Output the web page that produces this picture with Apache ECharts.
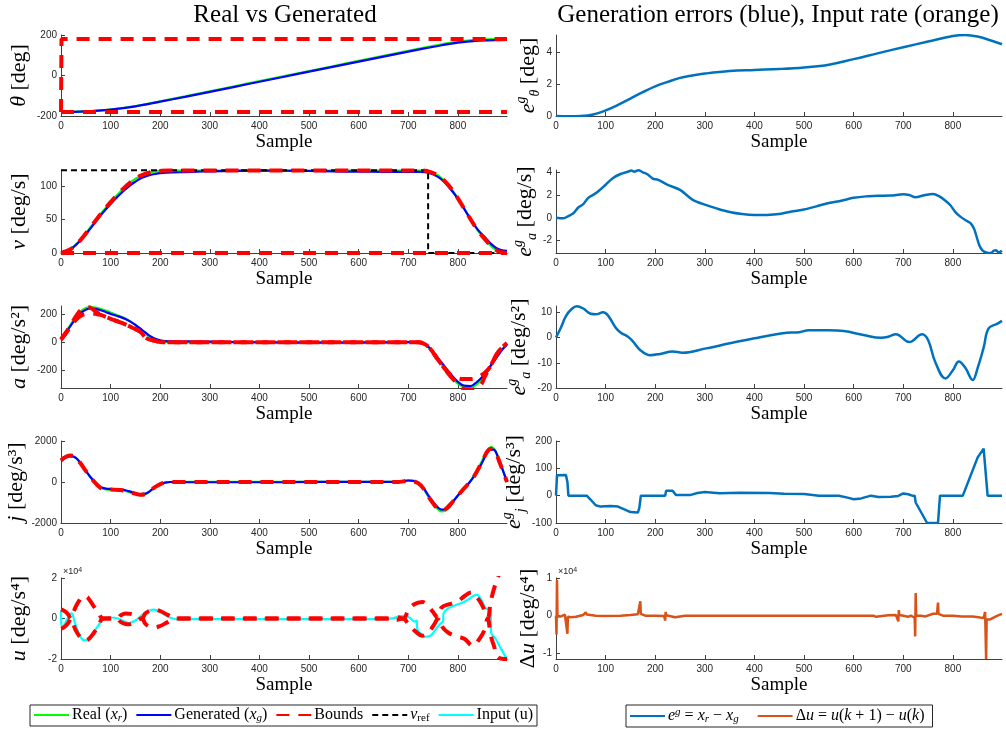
<!DOCTYPE html>
<html><head><meta charset="utf-8">
<script src="https://cdn.jsdelivr.net/npm/echarts@6/dist/echarts.min.js"></script>
<style>html,body{margin:0;padding:0;background:#fff}#c{width:1006px;height:731px}</style>
</head><body><div id="c"></div>
<script>
// ---------- tick values ----------
const xTicks = [0,100,200,300,400,500,600,700,800];
const thetaTicks = [-200,0,200];
const vTicks = [0,50,100];
const aTicks = [-200,0,200];
const jTicks = [-2000,0,2000];
const uTicks = [-20000,0,20000];
const eThetaTicks = [0,2,4];
const eVTicks = [-2,0,2,4];
const eATicks = [-20,-10,0,10];
const eJTicks = [-100,0,100,200];
const duTicks = [-10000,0,10000];

// ---------- row 1 : theta ----------
const thetaReal = [[0,-180],[25,-179.5],[50,-177.5],[75,-173.5],[100,-168],[125,-160.5],[150,-151],[175,-140],[200,-127.5],[250,-103],[300,-78],[350,-53],[400,-28],[450,-3],[500,22],[550,47],[600,72],[650,97],[700,122],[740,141.5],[770,155.5],[800,167],[830,174.5],[860,178.5],[880,179.6],[899,180]];
const thetaGen = [[0,-180],[25,-179.5],[50,-177.5],[75,-173.6],[100,-168.4],[125,-161.2],[150,-152.1],[175,-141.5],[200,-129.4],[250,-105.4],[300,-80.7],[350,-55.8],[400,-30.9],[450,-6],[500,18.9],[550,43.8],[600,68.4],[650,93],[700,117.7],[740,136.9],[770,150.7],[800,162],[830,169.4],[860,173.6],[880,174.9],[899,175.5]];
const thetaBoundUp = [[0,-180],[1,180],[899,180]];
const thetaBoundLow = [[0,-180],[899,-180]];

// ---------- row 2 : v ----------
const vReal = [[0,0],[10,2],[20,6],[30,12.5],[40,20],[50,29],[60,38.9],[70,48.6],[80,58.3],[90,67.4],[100,76.1],[110,84.3],[120,92],[130,99],[140,105.4],[150,110.7],[160,115.2],[170,118.3],[180,120.6],[190,121.8],[200,122.6],[210,123],[220,123.2],[720,123.2],[730,122.8],[740,121.8],[750,119.5],[760,115.8],[770,109.5],[780,102.2],[790,92.5],[800,81.6],[810,69.5],[820,57],[830,45],[840,34],[850,25],[860,16],[870,8.5],[880,3.5],[890,1],[899,0.2]];
const vGen = [[0,0],[10,2],[20,6],[30,12.2],[40,19.4],[50,28],[60,37.4],[70,46.7],[80,56.2],[90,64.9],[100,73.2],[110,81],[120,88.4],[130,95.2],[140,101.4],[150,106.6],[160,111.2],[170,114.2],[180,116.7],[190,118.2],[200,119.2],[225,120.3],[250,120.8],[275,121.5],[300,122],[350,122.7],[400,123],[450,122.9],[500,122.5],[550,121.9],[600,121.5],[650,121.3],[700,121.1],[725,121.1],[740,119.9],[760,113.7],[775,104.2],[790,91.1],[800,80.8],[810,69.3],[825,51.2],[840,35],[853,24.5],[867,13.5],[877,7.5],[887,4.5],[899,3.1]];
const vBoundUp = [[0,0],[20,6],[40,20],[60,39],[80,58.3],[100,76],[120,92],[140,105.4],[160,115.2],[180,120.6],[200,122.6],[215,123.4],[730,123.4],[740,122],[750,119.5],[760,115.8],[780,102.2],[800,81.6],[820,57],[840,34],[860,16],[875,5.5],[885,1.5],[899,0]];
const vBoundLow = [[0,0],[899,0]];
const vRef = [[0,123.5],[740,123.5],[740,0],[899,0]];

// ---------- row 3 : a ----------
const aReal = [[0,20],[10,75],[20,130],[30,180],[40,222],[50,245],[60,252],[70,248],[80,238],[90,226],[100,212],[110,198],[120,184],[130,168],[140,148],[150,123],[160,95],[170,65],[180,38],[190,18],[200,7],[210,2],[220,0],[700,0],[712,2],[725,-2],[738,-25],[750,-70],[765,-145],[775,-195],[785,-241],[800,-295],[812,-318],[825,-324],[838,-300],[850,-255],[862,-190],[872,-135],[880,-90],[890,-45],[899,-12]];
const aGen = [[0,20],[10,71],[20,121.5],[30,169],[40,209.6],[50,233],[60,241],[70,238.6],[80,228.8],[90,216.2],[100,202.5],[110,191],[120,180],[130,166],[140,147.2],[150,123.6],[160,97.5],[170,70],[180,44.3],[190,25],[200,13.8],[210,8.5],[235,5.5],[255,6],[300,4.4],[350,2.3],[400,0.3],[450,-1.5],[500,-2.8],[550,-2.9],[600,-1.8],[655,0.1],[685,-1.3],[712,3.8],[738,-26.3],[750,-69],[765,-135],[785,-224.8],[800,-282],[812,-308.5],[825,-312],[838,-283.5],[850,-243],[862,-186],[872,-138.6],[890,-50.5],[899,-18.6]];
const aBound1 = [[0,20],[10,70],[20,125],[30,185],[40,230],[50,250],[56,250],[62,240],[70,220],[80,195],[100,168],[125,135],[145,102],[160,75],[172,30],[190,10],[205,0],[720,0],[740,-30],[760,-125],[780,-215],[795,-250],[812,-262],[828,-262],[842,-245],[855,-215],[865,-175],[880,-75],[890,-35],[899,-5]];
const aBound2 = [[0,20],[10,65],[20,115],[30,160],[40,190],[50,203],[60,207],[70,203],[80,195],[100,168],[125,135],[145,102],[160,75],[172,30],[190,10],[205,0],[720,0],[740,-30],[760,-125],[780,-220],[795,-280],[805,-315],[815,-335],[830,-338],[845,-310],[855,-240],[865,-175],[880,-75],[890,-35],[899,-5]];

// ---------- row 4 : j ----------
const jReal = [[0,1100],[10,1260],[20,1300],[30,1180],[40,900],[50,550],[60,220],[70,-60],[80,-280],[90,-360],[100,-380],[110,-380],[120,-400],[130,-440],[140,-520],[150,-600],[160,-650],[170,-610],[180,-430],[190,-250],[200,-110],[210,-30],[220,0],[230,10],[680,10],[690,40],[700,80],[710,60],[720,-50],[730,-300],[740,-700],[750,-1050],[760,-1330],[768,-1440],[775,-1380],[782,-1250],[790,-970],[800,-660],[810,-380],[820,-120],[830,200],[840,620],[850,1100],[858,1500],[866,1700],[872,1640],[880,1280],[890,620],[899,0]];
const jGen = [[0,1040],[10,1200],[20,1250],[30,1180],[40,900],[50,550],[60,220],[70,-45],[80,-245],[90,-320],[100,-340],[110,-342],[120,-362],[130,-400],[140,-470],[150,-540],[160,-590],[170,-570],[180,-430],[190,-250],[200,-110],[210,-30],[220,0],[230,-8],[300,-13],[450,-10],[600,13],[680,8],[690,38],[700,72],[710,55],[720,-50],[730,-270],[740,-640],[750,-970],[760,-1250],[768,-1350],[775,-1330],[782,-1240],[790,-970],[800,-660],[810,-380],[820,-120],[830,190],[840,560],[850,1000],[858,1380],[866,1580],[872,1580],[880,1260],[890,620],[899,0]];
const jBound = [[0,1050],[10,1230],[20,1290],[30,1180],[40,890],[50,540],[60,210],[70,-70],[80,-290],[90,-360],[100,-370],[120,-390],[140,-500],[160,-620],[170,-590],[180,-420],[190,-240],[200,-100],[210,-25],[225,0],[680,0],[690,30],[700,70],[710,40],[720,-60],[730,-300],[740,-690],[750,-1040],[760,-1310],[768,-1390],[775,-1330],[790,-950],[810,-380],[830,180],[850,1050],[860,1520],[868,1620],[875,1480],[885,900],[899,0]];

// ---------- row 5 : u ----------
const uInput = [[0,4000],[1,-3000],[4,-4000],[8,-2500],[13,0],[18,2000],[22,2500],[25,500],[30,-3500],[38,-8500],[47,-10800],[55,-10000],[65,-7000],[75,-3500],[87,0],[100,500],[115,0],[128,-1500],[137,-2300],[150,-1000],[165,2000],[178,3800],[187,4400],[200,3300],[213,1200],[225,0],[235,-500],[260,-300],[650,-300],[670,200],[685,1200],[695,1300],[705,0],[712,-1500],[717,-1000],[718,-5000],[725,-7500],[735,-9000],[745,-8500],[755,-5500],[765,-2500],[770,-1500],[771,2500],[780,5000],[800,7000],[815,8500],[830,11000],[838,11800],[848,9000],[856,5000],[866,4500],[867,-7000],[876,-10000],[887,-15000],[899,-20000]];
const uBoundA = [[0,4500],[5,4000],[10,3200],[15,1800],[20,0],[25,3000],[30,6000],[37,9000],[43,10800],[50,10800],[58,9000],[66,6000],[75,3000],[85,0],[113,0],[120,1500],[130,2500],[140,2300],[150,1500],[163,0],[170,2500],[178,3800],[187,4500],[200,3700],[215,1800],[232,0],[660,0],[675,700],[690,0],[700,4000],[712,7000],[728,8200],[740,6000],[752,2500],[760,0],[767,5400],[787,7400],[800,8500],[813,11000],[827,12800],[840,10000],[850,6000],[860,0],[866,8000],[872,14000],[880,20000],[890,26000]];
const uBoundB = [[0,-5000],[5,-4500],[10,-3500],[15,-2000],[20,0],[25,-3000],[30,-6000],[38,-9000],[47,-10800],[55,-10300],[65,-7500],[75,-4000],[85,0],[113,0],[120,-1700],[130,-2700],[137,-2800],[150,-1600],[163,0],[170,-2600],[178,-4000],[187,-4500],[200,-3700],[215,-1800],[232,0],[660,0],[675,-700],[690,0],[700,-2800],[715,-6500],[728,-8500],[740,-7000],[752,-3000],[760,0],[767,-3600],[780,-6900],[800,-9000],[813,-10000],[830,-13400],[845,-9500],[853,-6000],[860,0],[866,-8000],[872,-13000],[883,-19500],[899,-20000]];

// ---------- right column ----------
const eTheta = [[0,0],[25,-0.02],[50,0],[75,0.1],[100,0.35],[125,0.7],[150,1.1],[175,1.5],[200,1.87],[225,2.15],[250,2.4],[275,2.55],[300,2.67],[350,2.83],[400,2.9],[450,2.96],[500,3.06],[550,3.23],[600,3.58],[650,3.96],[700,4.33],[750,4.69],[800,5.04],[825,5.1],[850,5.0],[875,4.77],[899,4.52]];
const eV = [[0,0],[15,-0.05],[25,0.15],[35,0.4],[45,0.9],[55,1.2],[65,1.75],[80,2.15],[100,2.9],[115,3.5],[130,3.85],[145,4.05],[152,4.15],[158,4.05],[166,4.18],[175,4.0],[185,3.8],[195,3.45],[205,3.35],[225,2.9],[250,2.45],[275,1.6],[300,1.15],[325,0.8],[350,0.5],[375,0.32],[400,0.24],[425,0.25],[450,0.33],[475,0.55],[500,0.72],[525,1.0],[550,1.3],[575,1.5],[600,1.75],[625,1.88],[650,1.93],[675,1.95],[700,2.07],[712,2.0],[725,1.8],[740,1.95],[760,2.1],[772,1.9],[785,1.5],[795,1.1],[805,0.5],[815,0.1],[825,-0.2],[835,-0.45],[843,-1.0],[853,-2.4],[860,-2.9],[867,-3.05],[877,-3.1],[882,-2.9],[887,-2.85],[892,-3.05],[899,-2.9]];
const eA = [[0,0],[10,4],[20,8.5],[30,11],[42,12.4],[55,11.5],[70,9.4],[80,9.2],[95,10],[105,8.7],[120,4],[130,2],[145,0.3],[155,-1.5],[170,-5],[190,-7],[210,-6.5],[235,-5.5],[255,-6],[300,-4.4],[350,-2.3],[400,-0.3],[450,1.5],[475,2],[485,2],[510,2.9],[550,2.9],[580,2.6],[620,1],[655,-0.1],[670,0.3],[685,1.3],[712,-1.8],[738,1.3],[750,-1],[765,-10],[785,-16.2],[800,-13],[812,-9.5],[825,-12],[840,-16.8],[850,-12],[862,-4],[872,3.6],[890,5.5],[899,6.6]];
const eJ = [[0,0],[2,75],[20,76],[23,50],[25,0],[62,0],[70,-15],[80,-35],[90,-40],[110,-38],[125,-40],[140,-52],[150,-60],[165,-62],[168,-45],[171,0],[220,0],[222,18],[235,18],[242,2],[270,2],[285,10],[300,13],[330,9],[370,11],[430,10],[460,7],[500,6],[530,0],[570,0],[590,-8],[600,-13],[615,-10],[635,0],[650,-5],[675,-4],[690,-1],[700,8],[710,5],[718,0],[723,0],[725,-25],[748,-100],[770,-100],[774,0],[820,0],[850,140],[862,172],[866,170],[870,0],[899,0]];
const dU = [[0,0],[1,-5000],[2,9500],[3,-200],[5,0],[10,-200],[18,300],[20,800],[21,300],[23,-4800],[24,-300],[30,-400],[40,-300],[55,200],[60,900],[62,300],[80,0],[100,-100],[130,0],[150,200],[165,400],[168,200],[170,3800],[171,500],[172,100],[180,0],[200,0],[218,-100],[220,-1300],[221,1000],[222,100],[224,-300],[240,-400],[241,0],[260,0],[640,0],[645,-300],[646,0],[670,100],[672,400],[673,100],[685,200],[690,-1500],[691,1500],[692,200],[700,0],[710,-300],[715,0],[723,-500],[724,-5500],[725,6000],[726,0],[735,0],[745,-200],[760,500],[768,500],[770,3500],[771,500],[780,0],[800,0],[818,-200],[820,-700],[821,0],[840,-200],[855,-500],[862,-600],[865,1000],[866,1000],[867,-11500],[868,-1000],[875,-1000],[890,0],[899,500]];

// ---------- styling ----------
const SERIF = '"Liberation Serif", "DejaVu Serif", serif';
const SANS = '"Liberation Sans", Arial, sans-serif';
const AX = '#404040';
const C = {real:'#00ff00', gen:'#0000ff', bound:'#ff0000', ref:'#000000', input:'#00ffff', err:'#0072BD', du:'#D95319'};

const rowTop = [35,170,306,441,578];
const rowH = [81,83,82,82,81];
const colLeft = [61,556];
const colW = 446;

const grids = [];
for (let c=0;c<2;c++) for (let r=0;r<5;r++) grids.push({left:colLeft[c], top:rowTop[r], width:colW, height:rowH[r], containLabel:false});

const nameRich = {
  i:{fontFamily:SERIF,fontStyle:'italic',fontSize:22,color:'#000',lineHeight:28},
  n:{fontFamily:SERIF,fontSize:22,color:'#000',lineHeight:28},
  sup:{fontFamily:SERIF,fontStyle:'italic',fontSize:14,color:'#000',verticalAlign:'top',lineHeight:14},
  sub:{fontFamily:SERIF,fontStyle:'italic',fontSize:14,color:'#000',verticalAlign:'bottom',lineHeight:14}
};

function xAx(gi){
  return {gridIndex:gi,type:'value',min:0,max:899,
    name:'Sample',nameLocation:'middle',nameGap:17,
    nameTextStyle:{fontFamily:SERIF,fontSize:19,color:'#000'},
    axisLine:{show:true,onZero:false,lineStyle:{color:AX,width:1}},
    axisTick:{show:true,inside:true,length:4,customValues:xTicks,lineStyle:{color:AX}},
    axisLabel:{customValues:xTicks,fontSize:10,color:'#262626',fontFamily:SANS,margin:5,
      formatter:v=>xTicks.includes(v)?String(v):''},
    splitLine:{show:false}};
}
function yAx(gi,min,max,ticks,name,gap,scale){
  scale = scale||1;
  return {gridIndex:gi,type:'value',min:min,max:max,
    name:name,nameLocation:'middle',nameGap:gap,nameRotate:90,
    nameTextStyle:{fontFamily:SERIF,fontSize:22,color:'#000',rich:nameRich},
    axisLine:{show:true,onZero:false,lineStyle:{color:AX,width:1}},
    axisTick:{show:true,inside:true,length:4,customValues:ticks,lineStyle:{color:AX}},
    axisLabel:{customValues:ticks,fontSize:10,color:'#262626',fontFamily:SANS,margin:4,
      formatter:v=>ticks.includes(v)?String(v/scale):''},
    splitLine:{show:false}};
}

const xAxes = [];
for (let g=0; g<10; g++) xAxes.push(xAx(g));
const yAxes = [
  yAx(0,-200,200,thetaTicks,'{i|θ}{n| [deg]}',28),
  yAx(1,0,124,vTicks,'{i|v}{n| [deg/s]}',28),
  yAx(2,-326,259,aTicks,'{i|a}{n| [deg/s²]}',28),
  yAx(3,-2000,2000,jTicks,'{i|j}{n| [deg/s³]}',28),
  yAx(4,-20000,20000,uTicks,'{i|u}{n| [deg/s⁴]}',28,10000),
  yAx(5,0,5.1,eThetaTicks,'{i|e}{sup|g}{sub|θ}{n| [deg]}',12),
  yAx(6,-3.1,4.2,eVTicks,'{i|e}{sup|g}{sub|a}{n| [deg/s]}',12),
  yAx(7,-20,12.5,eATicks,'{i|e}{sup|g}{sub|a}{n| [deg/s²]}',12),
  yAx(8,-100,200,eJTicks,'{i|e}{sup|g}{sub|j}{n| [deg/s³]}',12),
  yAx(9,-11500,10000,duTicks,'{n|Δ}{i|u}{n| [deg/s⁴]}',12,10000)
];

function ln(name,data,gi,color,width,dash,smooth){
  return {type:'line',name:name,xAxisIndex:gi,yAxisIndex:gi,data:data,
    symbol:'none',showSymbol:false,smooth:smooth||false,animation:false,
    lineStyle:{color:color,width:width,type:dash||'solid'},itemStyle:{color:color},
    emphasis:{disabled:true},silent:true};
}
const RD = [13,9];
const BD = [6,4];
const series = [
  ln('Real',thetaReal,0,C.real,2.2,null,0.4),
  ln('Generated',thetaGen,0,C.gen,2.2,null,0.4),
  ln('Bounds',thetaBoundUp,0,C.bound,4,RD),
  ln('Bounds',thetaBoundLow,0,C.bound,4,RD),

  ln('Real',vReal,1,C.real,2.2,null,0.4),
  ln('Generated',vGen,1,C.gen,2.2,null,0.4),
  ln('vref',vRef,1,C.ref,2,BD),
  ln('Bounds',vBoundUp,1,C.bound,4,RD,0.4),
  ln('Bounds',vBoundLow,1,C.bound,4,RD),

  ln('Real',aReal,2,C.real,2.2,null,0.4),
  ln('Generated',aGen,2,C.gen,2.2,null,0.4),
  ln('Bounds',aBound1,2,C.bound,4,RD,0.4),
  ln('Bounds',aBound2,2,C.bound,4,RD,0.4),

  ln('Real',jReal,3,C.real,2.2,null,0.4),
  ln('Generated',jGen,3,C.gen,2.2,null,0.4),
  ln('Bounds',jBound,3,C.bound,4,RD,0.4),

  ln('Input',uInput,4,C.input,2.2,null,0.3),
  ln('Bounds',uBoundA,4,C.bound,4,RD,0.4),
  ln('Bounds',uBoundB,4,C.bound,4,RD,0.4),

  ln('err',eTheta,5,C.err,2.5,null,0.4),
  ln('err',eV,6,C.err,2.5,null,0.3),
  ln('err',eA,7,C.err,2.5,null,0.4),
  ln('err',eJ,8,C.err,2.5,null,false),
  ln('du',dU,9,C.du,2.5,null,false)
];

const legRich = {
  n:{fontFamily:SERIF,fontSize:16,color:'#000',lineHeight:18},
  i:{fontFamily:SERIF,fontStyle:'italic',fontSize:16,color:'#000',lineHeight:18},
  sub:{fontFamily:SERIF,fontStyle:'italic',fontSize:11,color:'#000',verticalAlign:'bottom',lineHeight:11},
  subn:{fontFamily:SERIF,fontSize:11,color:'#000',verticalAlign:'bottom',lineHeight:11},
  sup:{fontFamily:SERIF,fontStyle:'italic',fontSize:11,color:'#000',verticalAlign:'top',lineHeight:11}
};
const legText = {
  'Real':'{n|Real (}{i|x}{sub|r}{n|)}',
  'Generated':'{n|Generated (}{i|x}{sub|g}{n|)}',
  'Bounds':'{n|Bounds}',
  'vref':'{i|v}{subn|ref}',
  'Input':'{n|Input (u)}',
  'err':'{i|e}{sup|g}{n| = }{i|x}{sub|r}{n| − }{i|x}{sub|g}',
  'du':'{n|Δ}{i|u}{n| = }{i|u}{n|(}{i|k}{n| + 1) − }{i|u}{n|(}{i|k}{n|)}'
};
function leg(data,left,gap,pad){
  return {data:data,left:left,top:705,orient:'horizontal',itemWidth:35,itemHeight:12,itemGap:gap,
    padding:pad,borderColor:'#262626',borderWidth:1,backgroundColor:'#fff',
    selectedMode:false,
    itemStyle:{color:'rgba(0,0,0,0)',borderWidth:0,borderColor:'rgba(0,0,0,0)',opacity:0},
    textStyle:{fontFamily:SERIF,fontSize:16,color:'#000',rich:legRich,padding:[0,0,0,-2]},
    formatter:n=>legText[n]};
}

const option = {
  animation:false,
  backgroundColor:'#fff',
  grid:grids,
  xAxis:xAxes,
  yAxis:yAxes,
  series:series,
  legend:[leg(['Real','Generated','Bounds','vref','Input'],30,8,[2,4,2,3]), leg(['err','du'],626,18,[2,8,2,3])],
  graphic:[
    {type:'text',x:285,y:3,style:{text:'Real vs Generated',font:'25px '+SERIF,fill:'#000',textAlign:'center',verticalAlign:'top'}},
    {type:'text',x:778,y:3,style:{text:'Generation errors (blue), Input rate (orange)',font:'25px '+SERIF,fill:'#000',textAlign:'center',verticalAlign:'top'}},
    {type:'text',x:63,y:567,style:{text:'×10{s|4}',rich:{s:{fontSize:7,verticalAlign:'top',lineHeight:8,fill:'#262626'}},font:'9px '+SANS,fill:'#262626'}},
    {type:'text',x:558,y:567,style:{text:'×10{s|4}',rich:{s:{fontSize:7,verticalAlign:'top',lineHeight:8,fill:'#262626'}},font:'9px '+SANS,fill:'#262626'}}
  ]
};
const chart = echarts.init(document.getElementById('c'),null,{renderer:'canvas'});
chart.setOption(option);
</script>
</body></html>
